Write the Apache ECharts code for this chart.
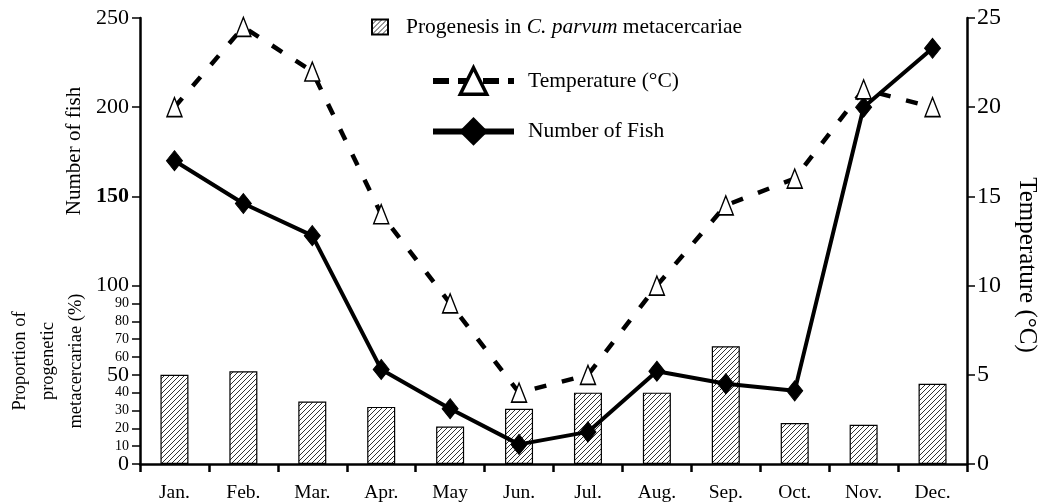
<!DOCTYPE html>
<html>
<head>
<meta charset="utf-8">
<script src="https://cdn.jsdelivr.net/npm/echarts@6/dist/echarts.min.js"></script>
<style>
html,body{margin:0;padding:0;background:#fff;}
#chart{width:1042px;height:504px;}
</style>
</head>
<body>
<div id="chart"></div>
<script>
// ---- data ----
const months = ['Jan.', 'Feb.', 'Mar.', 'Apr.', 'May', 'Jun.', 'Jul.', 'Aug.', 'Sep.', 'Oct.', 'Nov.', 'Dec.'];
const progenesis = [50, 52, 35, 32, 21, 31, 40, 40, 66, 23, 22, 45];
const temperature = [20, 24.5, 22, 14, 9, 4, 5, 10, 14.5, 16, 21, 20];
const fishNumber = [170, 146, 128, 53, 31, 11, 18, 52, 45, 41, 200, 233];
const leftTicks = [0, 10, 20, 30, 40, 50, 60, 70, 80, 90, 100, 150, 200, 250];
const rightTicks = [0, 5, 10, 15, 20, 25];

const FONT = '"Liberation Serif", "DejaVu Serif", serif';

// hatch pattern
function makeHatch() {
  const c = document.createElement('canvas');
  const n = 5;
  c.width = n; c.height = n;
  const ctx = c.getContext('2d');
  ctx.fillStyle = '#fff';
  ctx.fillRect(0, 0, n, n);
  ctx.fillStyle = '#333';
  for (let x = 0; x < n; x++) {
    for (let y = 0; y < n; y++) {
      if ((x + y) % n === n - 1) ctx.fillRect(x, y, 1, 1);
    }
  }
  return c;
}
const hatch = { image: makeHatch(), repeat: 'repeat' };

const chart = echarts.init(document.getElementById('chart'), null, { renderer: 'canvas' });

const LF = 21.5;
const option = {
  animation: false,
  backgroundColor: '#fff',
  textStyle: { fontFamily: FONT, color: '#000' },
  grid: { left: 140, right: 75, top: 18, bottom: 40, containLabel: false },
  legend: [
    {
      data: [{ name: 'Progenesis', icon: 'rect' }],
      left: 371, top: 16, padding: 0,
      itemWidth: 16, itemHeight: 15,
      formatter: function () { return '{g|}{n|Progenesis in }{i|C. parvum}{n| metacercariae}'; },
      textStyle: {
        fontFamily: FONT, color: '#000', fontSize: LF,
        rich: {
          g: { width: 13 },
          n: { fontFamily: FONT, fontSize: LF, color: '#000' },
          i: { fontFamily: FONT, fontSize: LF, color: '#000', fontStyle: 'italic' }
        }
      },
      selectedMode: false
    },
    {
      data: ['Temperature (°C)'],
      left: 430, top: 66, padding: 0,
      itemWidth: 81, itemHeight: 33,
      lineStyle: { width: 6, type: [16, 9] },
      itemStyle: { borderWidth: 3.5, color: '#fff', borderColor: '#000' },
      formatter: function (n) { return '{g|}{n|' + n + '}'; },
      textStyle: {
        fontFamily: FONT, color: '#000', fontSize: LF,
        rich: { g: { width: 9 }, n: { fontFamily: FONT, fontSize: LF, color: '#000' } }
      },
      selectedMode: false
    },
    {
      data: ['Number of Fish'],
      left: 430, top: 117, padding: 0,
      itemWidth: 81, itemHeight: 36,
      lineStyle: { width: 6 },
      formatter: function (n) { return '{g|}{n|' + n + '}'; },
      textStyle: {
        fontFamily: FONT, color: '#000', fontSize: LF,
        rich: { g: { width: 9 }, n: { fontFamily: FONT, fontSize: LF, color: '#000' } }
      },
      selectedMode: false
    }
  ],
  xAxis: {
    type: 'category',
    data: months,
    boundaryGap: true,
    axisLine: { lineStyle: { color: '#000', width: 2.5 } },
    axisTick: { show: true, length: 8, lineStyle: { color: '#000', width: 2.5 } },
    axisLabel: { color: '#000', fontFamily: FONT, fontSize: 19.5, margin: 19, interval: 0 },
    splitLine: { show: false }
  },
  yAxis: [
    {
      type: 'value',
      min: 0, max: 250,
      position: 'left',
      axisLine: { show: true, lineStyle: { color: '#000', width: 2.5 } },
      axisTick: { show: true, length: 8, customValues: leftTicks, lineStyle: { color: '#000', width: 1.5 } },
      axisLabel: {
        customValues: leftTicks,
        margin: 11,
        formatter: function (v) {
          if (v === 150) return '{bb|' + v + '}';
          return (v % 50 === 0) ? '{b|' + v + '}' : '{s|' + v + '}';
        },
        rich: {
          b: { fontFamily: FONT, fontSize: 22, color: '#000' },
          bb: { fontFamily: FONT, fontSize: 22, color: '#000', fontWeight: 'bold' },
          s: { fontFamily: FONT, fontSize: 14, color: '#000' }
        }
      },
      splitLine: { show: false }
    },
    {
      type: 'value',
      min: 0, max: 25, interval: 5,
      position: 'right',
      axisLine: { show: true, lineStyle: { color: '#000', width: 2.5 } },
      axisTick: { show: true, length: 8, customValues: rightTicks, lineStyle: { color: '#000', width: 1.5 } },
      axisLabel: { customValues: rightTicks, color: '#000', fontFamily: FONT, fontSize: 24, margin: 10 },
      splitLine: { show: false }
    }
  ],
  series: [
    {
      name: 'Progenesis',
      type: 'bar',
      yAxisIndex: 0,
      data: progenesis,
      barWidth: 28,
      itemStyle: { color: hatch, borderColor: '#000', borderWidth: 1.2 },
      z: 1
    },
    {
      name: 'Number of Fish',
      type: 'line',
      yAxisIndex: 0,
      data: fishNumber,
      symbol: 'diamond',
      symbolSize: [16, 20],
      lineStyle: { color: '#000', width: 4 },
      itemStyle: { color: '#000', borderColor: '#000' },
      z: 3
    },
    {
      name: 'Temperature (°C)',
      type: 'line',
      yAxisIndex: 1,
      data: temperature,
      symbol: 'triangle',
      symbolSize: [15, 19],
      lineStyle: { color: '#000', width: 4.5, type: [12, 16] },
      itemStyle: { color: '#fff', borderColor: '#000', borderWidth: 1.5 },
      z: 4
    }
  ],
  graphic: [
    {
      type: 'text',
      x: 74, y: 151, rotation: Math.PI / 2,
      style: { text: 'Number of fish', font: '21px ' + FONT, fill: '#000', align: 'center', verticalAlign: 'middle' }
    },
    {
      type: 'text',
      x: 48, y: 361, rotation: Math.PI / 2,
      style: {
        text: 'Proportion of\nprogenetic\nmetacercariae (%)',
        font: '18.5px ' + FONT, fill: '#000', align: 'center', verticalAlign: 'middle', lineHeight: 28
      }
    },
    {
      type: 'text',
      x: 1027, y: 265, rotation: -Math.PI / 2,
      style: { text: 'Temperature (°C)', font: '25px ' + FONT, fill: '#000', align: 'center', verticalAlign: 'middle' }
    }
  ]
};
chart.setOption(option);
</script>
</body>
</html>
